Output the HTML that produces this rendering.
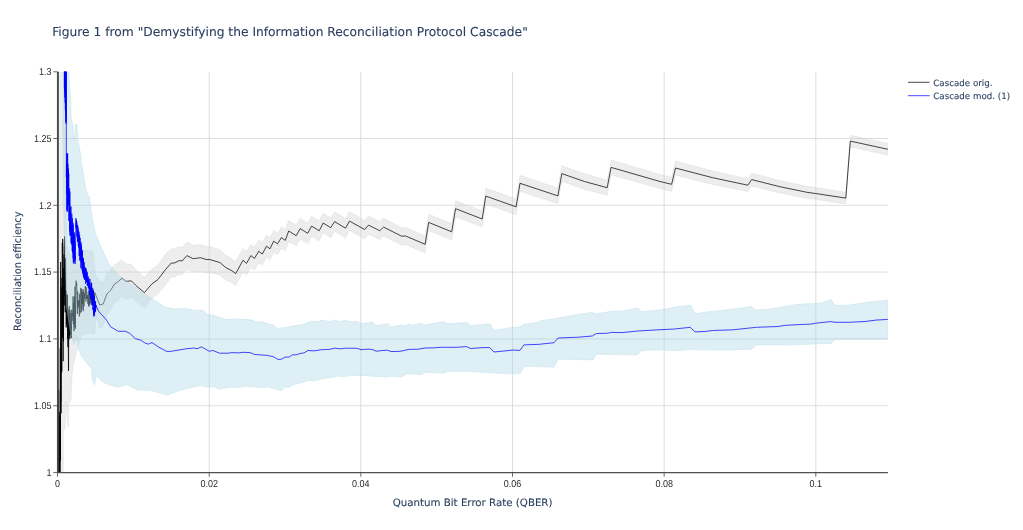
<!DOCTYPE html>
<html lang="en"><head><meta charset="utf-8">
<title>Figure 1 from "Demystifying the Information Reconciliation Protocol Cascade"</title>
<style>
html,body{margin:0;padding:0;background:#fff;}
body{width:1023px;height:530px;overflow:hidden;}
svg{display:block;}
svg{will-change:transform;opacity:.999;}
text{text-rendering:geometricPrecision;}
.v{font-family:'DejaVu Sans', Verdana, 'Liberation Sans', sans-serif;fill:#2a3f5f;stroke:#2a3f5f;stroke-width:0.1px;}
.a{font-family:'Liberation Sans', Arial, sans-serif;fill:#2a2a2a;font-size:10px;}
</style></head><body>
<svg width="1023" height="530" viewBox="0 0 1023 530">
<rect width="1023" height="530" fill="#fff"/>
<defs><clipPath id="c"><rect x="57.50" y="71.80" width="830.40" height="400.80"/></clipPath></defs>
<g stroke="#d9d9d9" stroke-width="0.9" fill="none">
<line x1="209.20" y1="71.80" x2="209.20" y2="472.60"/>
<line x1="360.85" y1="71.80" x2="360.85" y2="472.60"/>
<line x1="512.50" y1="71.80" x2="512.50" y2="472.60"/>
<line x1="664.15" y1="71.80" x2="664.15" y2="472.60"/>
<line x1="815.80" y1="71.80" x2="815.80" y2="472.60"/>
<line x1="57.50" y1="405.75" x2="887.90" y2="405.75"/>
<line x1="57.50" y1="338.90" x2="887.90" y2="338.90"/>
<line x1="57.50" y1="272.10" x2="887.90" y2="272.10"/>
<line x1="57.50" y1="205.30" x2="887.90" y2="205.30"/>
<line x1="57.50" y1="138.50" x2="887.90" y2="138.50"/>
</g>
<g clip-path="url(#c)">
<polygon points="58.20,72.00 66.00,72.00 66.50,245.00 70.00,255.00 83.00,250.00 93.00,251.00 95.60,274.18 99.70,281.61 100.00,281.32 103.20,282.10 105.00,278.14 106.90,273.36 110.60,270.45 113.00,266.96 114.50,264.68 118.30,262.55 122.00,259.80 125.70,263.71 131.40,264.55 133.00,266.54 135.30,269.05 144.00,277.06 144.40,277.43 151.70,269.35 158.00,265.10 165.80,253.73 166.00,253.47 171.00,249.14 171.30,248.81 174.40,248.95 179.10,246.75 182.20,247.19 186.90,242.10 187.00,242.15 193.20,245.33 200.50,244.49 206.30,246.42 209.70,246.49 210.00,246.59 220.00,249.98 225.80,255.21 231.30,258.22 235.70,261.59 236.00,261.05 243.00,248.49 246.50,251.69 250.90,244.01 254.50,246.91 258.70,239.93 262.30,242.73 266.50,235.05 270.00,237.74 273.60,230.24 277.50,232.95 281.40,226.86 285.30,229.77 288.70,220.46 290.00,221.31 296.20,225.30 300.20,218.27 307.70,223.09 311.60,215.96 319.20,220.79 323.20,213.05 330.70,217.88 334.60,211.84 345.50,218.62 349.50,211.59 350.00,211.88 364.60,220.22 368.50,215.88 379.70,221.65 383.60,218.10 401.60,227.47 405.60,227.33 425.10,235.93 428.70,214.08 430.00,214.63 451.70,223.62 455.60,200.54 482.20,210.98 485.00,193.19 485.80,188.10 510.00,196.77 516.10,198.88 520.00,175.39 557.90,188.09 560.00,176.09 561.80,165.81 584.50,173.87 607.20,180.23 611.10,159.96 660.00,174.40 671.60,177.28 675.00,163.09 675.50,161.00 712.60,171.00 747.80,178.78 750.00,175.64 751.70,173.21 779.90,180.48 806.90,186.24 815.60,187.49 845.80,192.27 850.00,139.10 850.30,135.30 887.90,143.50 888.00,143.50 888.00,155.10 887.90,155.10 850.30,146.90 850.00,150.70 845.80,203.93 815.60,199.51 806.90,198.36 779.90,192.92 751.70,185.99 750.00,188.44 747.80,191.62 712.60,184.40 675.50,175.00 675.00,177.09 671.60,191.32 660.00,188.60 611.10,174.84 607.20,195.17 584.50,189.13 561.80,181.39 560.00,191.69 557.90,203.71 520.00,191.21 516.10,214.72 510.00,212.63 485.80,204.10 485.00,209.19 482.20,227.02 455.60,216.86 451.70,239.98 430.00,231.23 428.70,230.72 425.10,252.67 405.60,244.67 401.60,244.93 383.60,236.10 379.70,239.75 368.50,234.32 364.60,238.78 350.00,230.88 349.50,230.61 345.50,237.77 334.60,231.36 330.70,237.52 323.20,232.95 319.20,240.81 311.60,236.24 307.70,243.51 300.20,238.93 296.20,246.10 290.00,242.31 288.70,241.54 285.30,251.03 281.40,248.34 277.50,254.65 273.60,252.16 270.00,259.86 266.50,257.35 262.30,265.27 258.70,262.67 254.50,269.89 250.90,267.19 246.50,275.11 243.00,272.11 236.00,285.05 235.70,285.61 231.30,282.58 225.80,279.99 220.00,275.22 210.00,272.59 209.70,272.51 206.30,272.58 200.50,270.91 193.20,272.07 187.00,269.15 186.90,269.10 182.20,274.61 179.10,274.45 174.40,277.05 171.30,277.19 171.00,277.54 166.00,284.47 165.80,284.67 158.00,293.70 151.70,298.85 144.40,307.97 144.00,307.66 135.30,300.75 133.00,298.54 131.40,297.25 125.70,298.89 122.00,296.60 118.30,300.25 114.50,303.32 113.00,305.96 110.60,310.35 106.90,314.64 105.00,320.14 103.20,325.90 100.00,328.32 99.70,328.19 95.60,315.02 95.00,334.00 90.00,333.00 85.00,334.00 82.00,335.00 77.40,348.00 73.50,364.00 71.90,376.50 71.10,400.00 68.80,405.00 68.20,427.00 65.80,402.00 65.20,428.00 63.30,432.00 63.30,472.50 58.20,472.50" fill="#d3d3d3" fill-opacity="0.4" stroke="#d3d3d3" stroke-opacity="0.4" stroke-width="0.8"/>
<polyline points="57.90,570.72 58.17,404.07 58.44,534.10 58.71,389.80 58.98,545.07 59.25,412.17 59.52,595.15 59.79,416.55 60.10,518.68 60.27,348.46 60.44,460.64 60.61,262.00 60.78,402.07 60.95,343.36 61.12,413.28 61.29,287.37 61.46,372.44 61.63,331.34 61.80,371.55 61.97,277.92 62.14,330.89 62.31,243.00 62.48,337.64 62.65,239.00 62.82,246.00 62.99,247.99 63.16,361.15 63.33,291.06 63.50,341.30 63.67,267.99 63.84,304.52 64.01,254.41 64.18,305.42 64.35,240.00 64.52,236.30 64.69,243.00 64.86,296.06 65.03,260.00 65.20,312.30 65.37,272.41 65.54,258.00 65.71,270.45 65.88,305.81 66.05,290.90 66.22,327.44 66.39,294.33 66.56,324.21 66.73,307.97 66.90,322.84 67.08,294.46 67.26,318.07 67.44,295.22 67.62,338.74 67.80,314.49 67.98,347.07 68.16,309.19 68.34,351.28 68.52,371.00 68.70,340.86 68.88,312.59 69.06,330.77 69.24,306.34 69.42,336.21 69.60,313.58 69.78,339.09 69.96,310.24 70.10,329.80 70.43,323.82 70.76,334.42 71.09,313.17 71.42,337.84 71.75,309.66 72.08,320.91 72.41,312.93 72.74,316.04 73.07,296.42 73.40,324.08 73.73,302.83 74.06,331.14 74.39,296.40 74.72,327.02 75.05,286.45 75.38,328.74 75.71,299.26 76.04,280.70 76.37,286.18 76.70,283.50 77.03,296.40 77.36,313.85 77.69,291.35 78.02,308.31 78.35,300.00 78.68,305.76 79.01,301.37 79.34,316.51 79.67,293.70 80.00,313.49 80.33,300.43 80.66,288.00 80.99,288.26 81.32,312.20 81.65,288.91 81.98,309.28 82.31,291.95 82.64,303.98 82.97,289.11 83.30,311.13 83.63,291.16 83.96,306.17 84.29,292.99 84.62,298.79 84.95,294.46 85.28,286.00 85.61,293.57 85.94,301.65 86.27,287.18 86.60,298.92 86.93,295.31 87.26,299.02 87.59,295.43 87.92,303.92 88.25,291.22 88.58,306.37 88.91,293.62 89.24,306.16 89.57,288.26 89.90,304.19 90.23,289.34 90.56,302.48 90.89,288.60 91.22,304.78 91.55,289.63 91.88,303.33 92.21,291.43 92.54,303.27 92.87,295.15 93.20,298.41 93.53,290.78 93.86,299.25 94.19,292.54 94.52,297.34 94.85,292.54 95.18,295.04 95.60,294.60 99.70,304.90 103.20,304.00 106.90,294.00 110.60,290.40 114.50,284.00 118.30,281.40 122.00,278.20 125.70,281.30 131.40,280.90 135.30,284.90 144.40,292.70 151.70,284.10 158.00,279.40 165.80,269.20 171.30,263.00 174.40,263.00 179.10,260.60 182.20,260.90 186.90,255.60 193.20,258.70 200.50,257.70 206.30,259.50 209.70,259.50 220.00,262.60 225.80,267.60 231.30,270.40 235.70,273.60 243.00,260.30 246.50,263.40 250.90,255.60 254.50,258.40 258.70,251.30 262.30,254.00 266.50,246.20 270.00,248.80 273.60,241.20 277.50,243.80 281.40,237.60 285.30,240.40 288.70,231.00 296.20,235.70 300.20,228.60 307.70,233.30 311.60,226.10 319.20,230.80 323.20,223.00 330.70,227.70 334.60,221.60 345.50,228.20 349.50,221.10 364.60,229.50 368.50,225.10 379.70,230.70 383.60,227.10 401.60,236.20 405.60,236.00 425.10,244.30 428.70,222.40 451.70,231.80 455.60,208.70 482.20,219.00 485.80,196.10 510.00,204.70 516.10,206.80 520.00,183.30 557.90,195.90 561.80,173.60 584.50,181.50 607.20,187.70 611.10,167.40 660.00,181.50 671.60,184.30 675.50,168.00 712.60,177.70 747.80,185.20 751.70,179.60 779.90,186.70 806.90,192.30 815.60,193.50 845.80,198.10 850.30,141.10 887.90,149.30" fill="none" stroke="#000" stroke-width="0.72" stroke-linejoin="round"/>
<polygon points="68.90,71.00 70.90,103.00 70.90,113.00 71.60,120.80 72.80,124.70 73.60,134.00 74.00,139.00 74.60,141.00 75.20,124.50 77.00,124.50 77.50,134.00 77.90,138.80 78.70,144.30 80.60,154.00 81.40,161.80 83.40,173.50 85.30,185.30 87.30,195.00 89.60,196.50 90.40,205.00 92.70,221.00 95.70,234.00 100.80,246.50 108.80,263.70 116.90,273.10 128.20,282.50 137.60,288.80 147.00,295.80 156.40,301.30 164.20,306.80 173.60,308.80 184.60,308.30 195.50,310.40 203.10,310.20 207.80,314.90 213.30,315.20 225.80,319.60 236.00,318.80 250.10,319.60 256.30,321.90 262.60,321.60 268.90,324.30 273.60,325.00 277.50,328.50 287.60,326.90 303.30,324.30 311.10,321.10 317.40,321.60 322.10,320.30 329.90,321.60 333.80,319.90 339.30,321.40 344.80,320.30 350.20,321.80 357.00,321.40 361.70,323.80 372.70,321.90 376.30,325.70 387.60,323.50 391.50,326.90 401.60,325.00 404.80,325.80 409.50,324.10 412.60,325.30 421.20,323.20 425.10,325.00 443.90,321.40 447.80,323.80 466.60,322.20 470.50,325.70 490.10,323.80 494.00,330.40 510.00,327.70 512.50,327.10 519.60,327.10 523.50,324.30 537.60,322.40 540.70,320.80 557.90,318.00 572.00,315.60 590.80,312.20 596.20,313.80 611.10,311.30 622.10,311.00 637.70,308.10 641.60,311.70 660.00,309.70 667.20,308.80 675.00,306.90 690.70,305.00 694.90,313.60 712.60,311.30 731.40,309.30 751.70,306.40 754.90,310.00 768.90,309.30 790.80,305.30 804.90,303.80 819.50,303.20 831.20,299.70 835.10,305.50 849.20,305.00 869.50,301.90 887.90,300.00 887.90,339.20 835.10,339.20 831.20,343.50 815.60,343.90 791.30,345.10 783.00,344.90 755.60,344.90 751.70,349.20 732.90,349.90 712.60,349.90 690.70,349.60 675.00,350.70 660.00,349.90 641.60,350.40 637.70,354.80 596.20,354.30 593.10,359.90 558.20,359.20 554.00,367.30 524.30,366.20 520.30,373.60 510.00,373.80 494.00,373.10 470.50,371.50 447.80,371.50 443.90,373.10 425.10,372.30 421.20,374.60 406.30,373.90 401.60,377.00 391.50,376.20 387.60,377.00 372.70,376.20 361.00,375.40 350.20,375.60 344.00,376.80 337.70,376.00 333.00,377.60 325.20,378.00 315.80,380.70 308.00,380.40 300.20,383.30 293.10,384.60 289.20,387.40 285.30,387.00 281.40,390.90 275.10,388.80 267.30,387.00 262.60,387.70 254.80,387.00 244.60,386.20 237.60,387.70 228.20,387.30 220.30,389.30 213.30,387.00 206.30,387.00 200.00,385.40 194.00,387.10 184.60,389.00 175.20,392.10 167.40,395.20 159.50,392.90 150.20,390.20 137.60,390.20 129.80,385.90 125.90,384.30 122.00,386.30 117.30,387.00 109.50,385.10 101.60,381.20 96.20,375.70 94.60,385.10 92.30,379.60 91.50,368.60 86.00,362.40 81.30,356.10 78.50,349.00 76.50,337.00 74.00,345.00 70.00,330.00 66.50,307.00 65.00,250.00 63.20,200.00 62.60,130.00 63.40,71.00" fill="#add8e6" fill-opacity="0.4" stroke="#add8e6" stroke-opacity="0.4" stroke-width="0.8"/>
<polyline points="64.30,-571.43 64.42,87.76 64.54,-854.53 64.66,91.99 64.78,-604.70 64.90,97.52 65.02,-410.80 65.14,102.67 65.26,-677.93 65.38,109.96 65.50,-356.47 65.62,112.91 65.74,-354.40 65.86,122.12 65.98,-716.06 66.10,123.68 66.22,-889.32 66.25,-200.00 66.35,152.00 66.35,177.00 66.49,165.33 66.63,193.86 66.77,153.18 66.91,210.21 67.05,163.73 67.19,211.81 67.33,155.27 67.47,210.35 67.61,153.29 67.75,205.95 67.89,163.63 68.03,193.40 68.17,168.22 68.31,203.81 68.45,170.22 68.59,205.41 68.73,173.62 68.87,221.04 69.01,199.31 69.15,202.27 69.29,199.28 69.43,216.18 69.57,188.39 69.71,231.12 69.85,191.55 69.99,235.78 70.13,207.08 70.27,232.40 70.41,212.72 70.55,235.26 70.69,220.11 70.83,227.44 70.97,206.40 71.11,243.20 71.25,225.27 71.39,241.07 71.53,229.29 71.67,244.64 71.81,213.70 71.95,242.19 72.09,228.55 72.23,251.22 72.37,218.15 72.51,252.43 72.65,237.63 72.79,245.85 72.93,222.78 73.07,258.23 73.21,224.76 73.35,262.67 73.49,239.92 73.63,263.42 73.77,236.37 73.91,259.50 74.05,232.15 74.19,254.51 74.33,233.58 74.47,257.00 74.61,236.68 74.75,261.65 74.89,242.44 75.03,264.02 75.17,255.58 75.31,259.59 75.45,252.61 75.80,222.22 75.94,218.12 76.08,227.39 76.22,223.33 76.36,228.35 76.50,220.19 76.64,227.57 76.78,221.93 76.92,235.85 77.06,227.80 77.20,237.75 77.34,225.00 77.48,241.72 77.62,224.96 77.76,239.99 77.90,227.16 78.04,241.96 78.18,229.59 78.32,245.88 78.46,238.77 78.60,247.80 78.74,234.76 78.88,244.43 79.02,231.66 79.16,255.98 79.30,243.23 79.44,249.22 79.58,234.82 79.72,260.54 79.86,243.90 80.00,251.16 80.14,237.88 80.28,253.13 80.42,250.43 80.56,260.85 80.70,244.15 80.84,268.17 80.98,241.96 81.12,256.88 81.26,245.33 81.40,262.62 81.54,247.25 81.68,261.88 81.82,253.09 81.96,270.17 82.10,249.99 82.24,265.88 82.38,251.04 82.52,272.69 82.66,257.36 82.80,266.40 82.94,259.61 83.08,274.16 83.22,265.05 83.36,275.70 83.50,257.99 83.64,276.17 83.78,262.64 83.92,278.33 84.06,262.27 84.20,277.34 84.34,267.05 84.48,279.83 84.62,266.89 84.76,274.48 84.90,273.47 85.04,277.68 85.18,271.21 85.32,279.20 85.46,267.69 85.60,283.76 85.74,267.95 85.88,277.53 86.02,273.61 86.16,277.74 86.30,269.39 86.44,282.10 86.58,273.05 86.72,282.01 86.86,272.47 87.00,279.81 87.14,271.73 87.28,285.76 87.42,277.97 87.56,282.78 87.70,278.78 87.84,285.99 87.98,280.25 88.12,284.37 88.26,276.48 88.40,288.05 88.54,283.25 88.68,286.70 88.82,278.58 88.96,288.62 89.10,284.45 89.24,292.12 89.38,282.32 89.52,295.05 89.66,282.62 89.80,293.60 89.94,278.97 90.08,294.18 90.22,289.66 90.36,291.93 90.50,286.80 90.64,298.89 90.78,287.70 90.92,297.71 91.06,284.91 91.20,295.21 91.34,282.60 91.48,297.36 91.62,283.07 91.76,300.29 91.90,287.67 92.04,305.31 92.18,291.25 92.32,303.49 92.46,291.02 92.60,298.66 92.74,288.31 92.88,309.86 93.02,290.11 93.16,304.61 93.30,290.63 93.44,311.20 93.58,314.50 93.72,307.21 93.86,316.50 94.00,305.23 94.14,295.84 94.28,315.50 94.42,296.13 94.56,313.34 94.70,303.71 94.84,307.43 94.98,304.94 95.12,312.15 95.26,302.58 95.40,311.56 95.54,301.03 95.68,309.62 95.82,305.48 95.96,307.24 96.10,305.34 96.60,307.00 98.90,311.70 104.00,317.20 106.70,320.30 110.60,326.80 118.30,331.30 125.70,331.30 129.80,333.40 135.30,338.60 140.80,340.20 145.50,343.30 148.60,344.10 152.00,342.50 158.00,346.70 166.60,351.40 170.50,351.40 186.20,348.80 194.00,348.00 197.10,348.80 201.50,346.80 209.40,351.30 212.50,350.40 219.60,353.20 228.20,353.20 232.10,352.60 239.10,352.90 243.00,352.30 250.10,352.60 254.80,354.50 267.30,355.40 273.60,356.80 278.20,359.50 281.40,359.20 285.30,357.10 289.20,357.10 292.30,354.80 296.20,354.80 300.20,353.50 304.10,352.90 308.00,350.50 314.20,350.90 320.50,349.80 329.90,349.30 334.60,348.20 340.80,348.80 345.50,348.20 357.00,348.30 361.00,349.60 368.80,349.10 372.70,349.60 376.30,351.30 380.50,350.70 387.60,350.20 391.00,351.60 400.10,351.30 409.50,349.30 417.30,349.30 425.10,348.00 432.90,347.90 440.80,347.30 456.40,347.30 466.60,346.60 470.50,348.50 483.00,347.60 489.70,347.60 494.00,352.00 510.00,350.40 512.50,350.10 520.00,350.40 523.90,344.90 539.10,344.30 554.00,342.70 558.20,338.00 578.20,337.20 592.30,336.00 596.20,333.60 608.00,333.20 611.10,332.40 622.10,332.60 637.70,331.00 660.00,329.70 673.50,329.10 690.40,327.30 694.90,331.90 704.80,331.50 712.60,330.50 732.90,329.80 756.40,327.30 778.30,326.50 784.60,325.40 800.20,324.50 810.10,324.20 815.60,323.20 830.40,321.60 835.10,322.30 849.20,322.30 864.90,321.50 875.80,320.10 887.90,319.40" fill="none" stroke="#00f" stroke-width="0.72" stroke-linejoin="round"/>
</g>
<line x1="57.90" y1="71.80" x2="57.90" y2="473.10" stroke="#474747" stroke-width="1.9"/>
<line x1="57.00" y1="472.65" x2="887.90" y2="472.65" stroke="#505050" stroke-width="1.15"/>
<g stroke="#444" stroke-width="0.8" fill="none">
<line x1="57.55" y1="472.60" x2="57.55" y2="476.80"/>
<line x1="209.20" y1="472.60" x2="209.20" y2="476.80"/>
<line x1="360.85" y1="472.60" x2="360.85" y2="476.80"/>
<line x1="512.50" y1="472.60" x2="512.50" y2="476.80"/>
<line x1="664.15" y1="472.60" x2="664.15" y2="476.80"/>
<line x1="815.80" y1="472.60" x2="815.80" y2="476.80"/>
<line x1="53.30" y1="472.55" x2="57.50" y2="472.55"/>
<line x1="53.30" y1="405.75" x2="57.50" y2="405.75"/>
<line x1="53.30" y1="338.90" x2="57.50" y2="338.90"/>
<line x1="53.30" y1="272.10" x2="57.50" y2="272.10"/>
<line x1="53.30" y1="205.30" x2="57.50" y2="205.30"/>
<line x1="53.30" y1="138.50" x2="57.50" y2="138.50"/>
<line x1="53.30" y1="71.80" x2="57.50" y2="71.80"/>
</g>
<g class="a" text-anchor="middle">
<text x="57.55" y="487.0" textLength="5.00" lengthAdjust="spacingAndGlyphs">0</text>
<text x="209.20" y="487.0" textLength="17.51" lengthAdjust="spacingAndGlyphs">0.02</text>
<text x="360.85" y="487.0" textLength="17.51" lengthAdjust="spacingAndGlyphs">0.04</text>
<text x="512.50" y="487.0" textLength="17.51" lengthAdjust="spacingAndGlyphs">0.06</text>
<text x="664.15" y="487.0" textLength="17.51" lengthAdjust="spacingAndGlyphs">0.08</text>
<text x="815.80" y="487.0" textLength="12.51" lengthAdjust="spacingAndGlyphs">0.1</text>
</g>
<g class="a" text-anchor="end">
<text x="51.5" y="475.85" textLength="5.00" lengthAdjust="spacingAndGlyphs">1</text>
<text x="51.5" y="409.05" textLength="17.51" lengthAdjust="spacingAndGlyphs">1.05</text>
<text x="51.5" y="342.20" textLength="12.51" lengthAdjust="spacingAndGlyphs">1.1</text>
<text x="51.5" y="275.40" textLength="17.51" lengthAdjust="spacingAndGlyphs">1.15</text>
<text x="51.5" y="208.60" textLength="12.51" lengthAdjust="spacingAndGlyphs">1.2</text>
<text x="51.5" y="141.80" textLength="17.51" lengthAdjust="spacingAndGlyphs">1.25</text>
<text x="51.5" y="75.10" textLength="12.51" lengthAdjust="spacingAndGlyphs">1.3</text>
</g>
<text class="v" x="52.2" y="35.8" font-size="12.3px" textLength="475.6" lengthAdjust="spacingAndGlyphs">Figure 1 from "Demystifying the Information Reconciliation Protocol Cascade"</text>
<text class="v" x="472.6" y="506.1" font-size="10.2px" textLength="159.8" lengthAdjust="spacingAndGlyphs" text-anchor="middle">Quantum Bit Error Rate (QBER)</text>
<text class="v" transform="translate(20.8,271.2) rotate(-90)" font-size="10.2px" text-anchor="middle" textLength="119.6" lengthAdjust="spacingAndGlyphs">Reconciliation efficiency</text>
<line x1="908.0" y1="82.3" x2="929.6" y2="82.3" stroke="#000" stroke-width="0.72"/>
<line x1="908.0" y1="95.7" x2="929.6" y2="95.7" stroke="#00f" stroke-width="0.72"/>
<text class="v" x="933.3" y="85.6" font-size="8.7px">Cascade orig.</text>
<text class="v" x="933.3" y="99.0" font-size="8.7px">Cascade mod. (1)</text>
</svg>
</body></html>
